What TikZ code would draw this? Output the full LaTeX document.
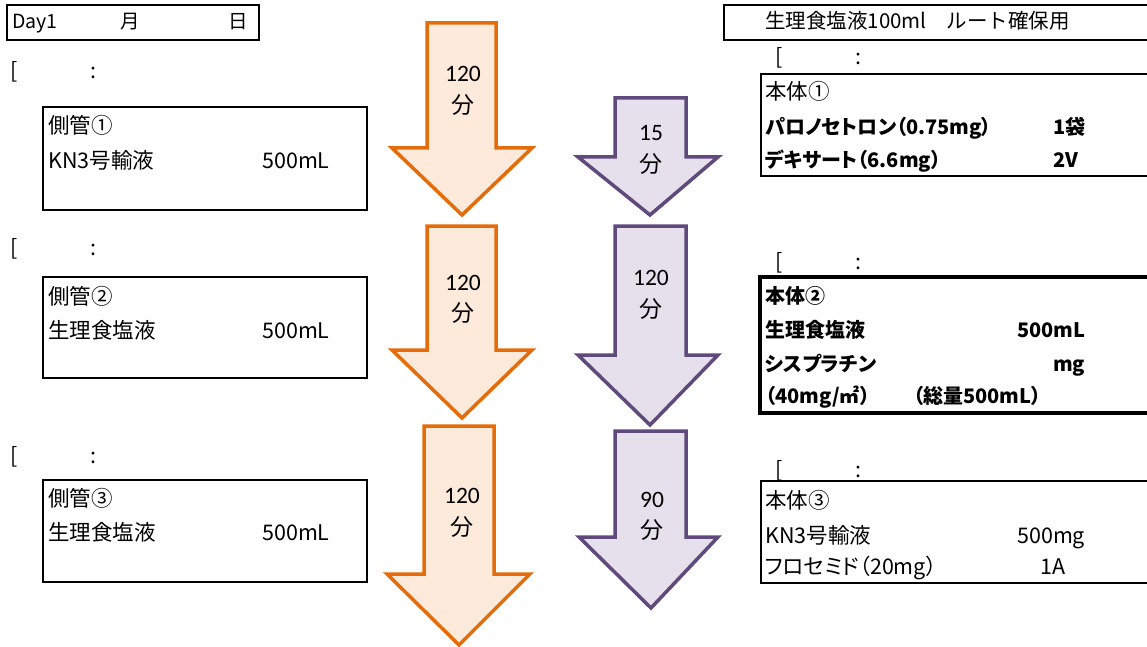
\documentclass[tikz,border=0pt]{standalone}
\usepackage{fontspec}
\setmainfont{Noto Sans CJK JP}[RawFeature=+palt]
\newfontfamily\numfont{Carlito}
\newfontfamily\jpfont{Noto Sans CJK JP}
\definecolor{orln}{HTML}{E46C0A}
\definecolor{orfill}{HTML}{FDEADA}
\definecolor{puln}{HTML}{604A7B}
\definecolor{pufill}{HTML}{E5E0EC}
\tikzset{
 hdr/.style={font=\fontsize{19.5}{19.5}\selectfont\jpfont, anchor=base west, inner sep=0pt},
 txt/.style={font=\fontsize{21.5}{21.5}\selectfont, anchor=base west, inner sep=0pt},
 btxt/.style={anchor=base west, inner sep=0pt, font=\fontsize{20}{20}\selectfont\bfseries},
 frame/.style={draw=black, line width=2pt},
 thickframe/.style={draw=black, line width=3.5pt},
 orarrow/.style={draw=orln, fill=orfill, line width=3.5pt, line join=miter},
 puarrow/.style={draw=puln, fill=pufill, line width=3.5pt, line join=miter},
 numlab/.style={font=\fontsize{23.5}{23.5}\selectfont\numfont, anchor=base, inner sep=0pt},
 funlab/.style={font=\fontsize{23}{23}\selectfont\jpfont, anchor=base, inner sep=0pt}
}
\begin{document}
\begin{tikzpicture}[x=1pt,y=-1pt]
\useasboundingbox (0,0) rectangle (1147,647);
\clip (0,0) rectangle (1147,647);
\fill[white] (0,0) rectangle (1147,647);

% ---- left header
\draw[frame] (7,5) rectangle (259,40);
\node[hdr] (day) at (12,29) {Day1};
\node[hdr, anchor=base] (tsuki) at (130,29) {月};
\node[hdr, anchor=base] (hi) at (238,29) {日};

% ---- left time marks
\node[txt] (lb1) at (10,79) {[};
\node[txt] (lc1) at (90,79) {:};
\node[txt] (lb2) at (10,255) {[};
\node[txt] (lc2) at (90,255) {:};
\node[txt] (lb3) at (10,463) {[};
\node[txt] (lc3) at (90,463) {:};

% ---- left boxes
\draw[frame] (43,107) rectangle (367,210);
\node[txt] (s1t) at (48,134) {側管①};
\node[txt] (s1a) at (48,168) {KN3号輸液};
\node[txt] (s1b) at (262,168) {500mL};

\draw[frame] (43,277) rectangle (367,378);
\node[txt] (s2t) at (48,304) {側管②};
\node[txt] (s2a) at (48,338) {生理食塩液};
\node[txt] (s2b) at (262,338) {500mL};

\draw[frame] (43,480) rectangle (367,582);
\node[txt] (s3t) at (48,506) {側管③};
\node[txt] (s3a) at (48,540) {生理食塩液};
\node[txt] (s3b) at (262,540) {500mL};

% ---- orange arrows
\draw[orarrow] (427,23) -- (496,23) -- (496,148) -- (532,148) -- (462,215) -- (392,148) -- (427,148) -- cycle;
\node[numlab] (o1n) at (463,82) {120};
\node[funlab] (o1f) at (463,114) {分};

\draw[orarrow] (427,226) -- (496,226) -- (496,350) -- (532,350) -- (462,418) -- (392,350) -- (427,350) -- cycle;
\node[numlab] (o2n) at (463,290) {120};
\node[funlab] (o2f) at (463,321) {分};

\draw[orarrow] (424,426) -- (494,426) -- (494,574) -- (530,574) -- (459,645) -- (387,574) -- (424,574) -- cycle;
\node[numlab] (o3n) at (462,503) {120};
\node[funlab] (o3f) at (462,535) {分};

% ---- purple arrows
\draw[puarrow] (615,98) -- (686,98) -- (686,157) -- (718,157) -- (650,215) -- (578,157) -- (615,157) -- cycle;
\node[numlab] (p1n) at (651,141) {15};
\node[funlab] (p1f) at (651,172) {分};

\draw[puarrow] (615,226) -- (686,226) -- (686,355) -- (718,355) -- (650,425) -- (578,355) -- (615,355) -- cycle;
\node[numlab] (p2n) at (651,285) {120};
\node[funlab] (p2f) at (651,317) {分};

\draw[puarrow] (615,431) -- (686,431) -- (686,537) -- (718,537) -- (651,608) -- (579,537) -- (615,537) -- cycle;
\node[numlab] (p3n) at (652,507) {90};
\node[funlab] (p3f) at (652,538) {分};

% ---- right header
\draw[frame] (724,5) rectangle (1160,40);
\node[hdr, font=\fontsize{20.5}{20.5}\selectfont\jpfont] (route) at (765,29) {生理食塩液100ml\hspace{20pt}ルート確保用};

% ---- right time marks
\node[txt] (rb1) at (775,65) {[};
\node[txt] (rc1) at (855,65) {:};
\node[txt] (rb2) at (775,269) {[};
\node[txt] (rc2) at (855,269) {:};
\node[txt] (rb3) at (775,477) {[};
\node[txt] (rc3) at (855,477) {:};

% ---- right boxes
\draw[frame] (761,74) rectangle (1160,176);
\node[txt] (m1t) at (765,100) {本体①};
\node[btxt] (m1a) at (765,134.5) {パロノセトロン（0.75mg）};
\node[btxt] (m1b) at (1053,134.5) {1袋};
\node[btxt] (m1c) at (765,167.5) {デキサート（6.6mg）};
\node[btxt] (m1d) at (1053,167.5) {2V};

\draw[thickframe] (760,277) rectangle (1160,413);
\node[btxt] (m2t) at (765,303.5) {本体②};
\node[btxt] (m2a) at (765,337.5) {生理食塩液};
\node[btxt] (m2b) at (1017,337.5) {500mL};
\node[btxt] (m2c) at (765,371.5) {シスプラチン};
\node[btxt] (m2d) at (1053,371.5) {mg};
\node[btxt] (m2e) at (765,403.5) {（40mg/㎡）};
\node[btxt] (m2f) at (913,403.5) {（総量500mL）};

\draw[frame] (761,481) rectangle (1160,583);
\node[txt] (m3t) at (765,508) {本体③};
\node[txt] (m3a) at (765,543) {KN3号輸液};
\node[txt] (m3b) at (1017,543) {500mg};
\node[txt] (m3c) at (765,574) {フロセミド（20mg）};
\node[txt] (m3d) at (1040,574) {1A};
\end{tikzpicture}
\end{document}
